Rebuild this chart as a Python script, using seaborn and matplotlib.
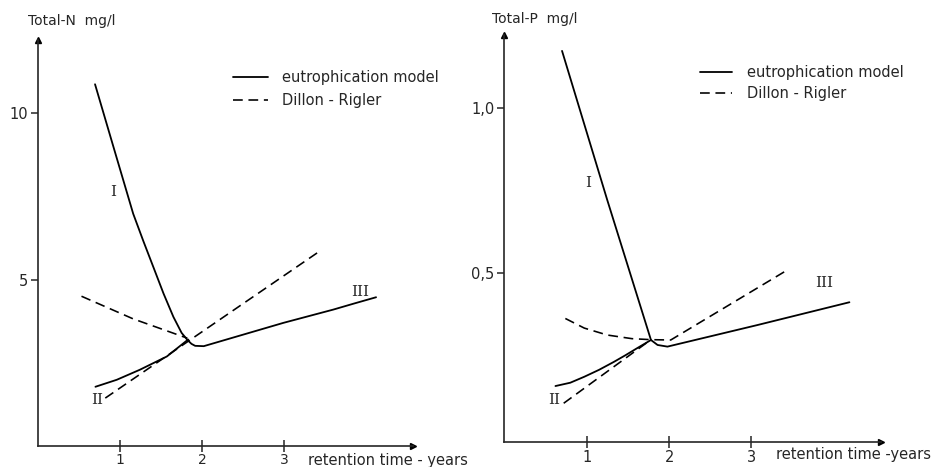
#load python modules
import numpy as np
import pandas as pd
import matplotlib
matplotlib.use("Agg")
import matplotlib.pyplot as plt
import seaborn as sns

#values (x = retention time in years)
n_main_x = [0.695, 0.93, 1.16, 1.285, 1.41, 1.53, 1.65, 1.75, 1.82, 1.87, 1.915, 2.02, 2.99, 3.60, 3.85, 4.12]
n_main_y = [10.87, 8.90, 6.98, 6.15, 5.35, 4.58, 3.88, 3.40, 3.19, 3.07, 3.01, 3.00, 3.70, 4.10, 4.28, 4.47]
n_low_x = [0.70, 0.96, 1.24, 1.57, 1.83]
n_low_y = [1.78, 1.99, 2.29, 2.69, 3.20]
n_dr_low_x = [0.82, 3.43]
n_dr_low_y = [1.44, 5.85]
n_dr_up_x = [0.53, 1.16, 1.82]
n_dr_up_y = [4.50, 3.82, 3.24]

p_main_x = [0.70, 1.25, 1.78, 1.86, 1.98, 3.07, 4.19]
p_main_y = [1.172, 0.721, 0.299, 0.284, 0.279, 0.344, 0.413]
p_low_x = [0.62, 0.80, 0.97, 1.15, 1.33, 1.47, 1.61, 1.78]
p_low_y = [0.160, 0.170, 0.188, 0.209, 0.233, 0.253, 0.274, 0.299]
p_dr_low_x = [0.72, 1.78]
p_dr_low_y = [0.108, 0.300]
p_dr_up_x = [0.74, 0.97, 1.25, 1.55, 1.78, 2.02, 3.40]
p_dr_up_y = [0.364, 0.335, 0.314, 0.303, 0.300, 0.299, 0.505]

n_ticks = [5, 10]
n_ticklabels = ["5", "10"]
p_ticks = [0.5, 1.0]
p_ticklabels = ["0,5", "1,0"]
x_ticks = [1, 2, 3]

sns.set_style("ticks")
plt.rcParams["font.family"] = ["DejaVu Sans"]

fig = plt.figure(figsize=(9.48, 4.67), dpi=100)
W, H = 948.0, 467.0

def frac(x0, y0, x1, y1):
    #pixel box -> figure fraction rect
    return [x0 / W, (H - y1) / H, (x1 - x0) / W, (y1 - y0) / H]

ax1 = fig.add_axes(frac(38, 40, 413, 446))
ax2 = fig.add_axes(frac(504.4, 35, 880.7, 442))

dash = (6, 3.5)
lw = 1.3

def draw(ax, main_x, main_y, low_x, low_y, drl_x, drl_y, dru_x, dru_y):
    sns.lineplot(x=main_x, y=main_y, ax=ax, color="black", lw=lw, sort=False,
                 estimator=None, label="eutrophication model")
    sns.lineplot(x=low_x, y=low_y, ax=ax, color="black", lw=lw, sort=False, estimator=None)
    sns.lineplot(x=drl_x, y=drl_y, ax=ax, color="black", lw=lw * 0.9, sort=False,
                 estimator=None, label="Dillon - Rigler")
    sns.lineplot(x=dru_x, y=dru_y, ax=ax, color="black", lw=lw * 0.9, sort=False, estimator=None)
    ax.lines[2].set_dashes(dash)
    ax.lines[3].set_dashes(dash)

draw(ax1, n_main_x, n_main_y, n_low_x, n_low_y, n_dr_low_x, n_dr_low_y, n_dr_up_x, n_dr_up_y)
draw(ax2, p_main_x, p_main_y, p_low_x, p_low_y, p_dr_low_x, p_dr_low_y, p_dr_up_x, p_dr_up_y)

#axis limits
ax1.set_xlim(0, 4.57)
ax1.set_ylim(0, 12.2)
ax2.set_xlim(0, 4.57)
ax2.set_ylim(-0.009, 1.22)

#format axes
for ax in (ax1, ax2):
    ax.patch.set_alpha(0)
    sns.despine(ax=ax)
    ax.spines["left"].set_linewidth(1.2)
    ax.spines["bottom"].set_linewidth(1.2)
    ax.set_xticks(x_ticks)
    ax.set_xticklabels([str(t) for t in x_ticks])
    ax.tick_params(axis="y", direction="out", length=5, width=1.1, labelsize=10.5, pad=2)
    ax.set_xlabel("")
    ax.set_ylabel("")
    #arrow heads on the axes
    ax.plot(1, 0, ">", color="black", ms=5, transform=ax.transAxes, clip_on=False)
    ax.plot(0, 1, "^", color="black", ms=5, transform=ax.transAxes, clip_on=False)

ax1.tick_params(axis="x", direction="inout", length=8, width=1.1, labelsize=10, pad=1)
ax2.tick_params(axis="x", direction="inout", length=8, width=1.1, labelsize=10.5, pad=2)

ax1.set_yticks(n_ticks)
ax1.set_yticklabels(n_ticklabels)
ax2.set_yticks(p_ticks)
ax2.set_yticklabels(p_ticklabels)

#legends
ax1.legend(loc="upper left", bbox_to_anchor=(0.52, 0.925), frameon=False, fontsize=10.5,
           handlelength=2.4, handletextpad=0.95, labelspacing=0.55, borderpad=0, borderaxespad=0)
ax2.legend(loc="upper left", bbox_to_anchor=(0.52, 0.927), frameon=False, fontsize=10.5,
           handlelength=2.2, handletextpad=1.05, labelspacing=0.45, borderpad=0, borderaxespad=0)

#curve labels
serif = dict(family="DejaVu Serif", fontsize=11, ha="center", va="center")
ax1.text(0.915, 7.62, "I", **serif)
ax1.text(0.72, 1.39, "II", **serif)
ax1.text(3.93, 4.64, "III", **serif)
ax2.text(1.016, 0.773, "I", **serif)
ax2.text(0.60, 0.118, "II", **serif)
ax2.text(3.88, 0.471, "III", **serif)

#axis titles
fig.text(28 / W, 1 - 21 / H, "Total-N  mg/l", fontsize=10, va="center", ha="left")
fig.text(308 / W, 1 - 460 / H, "retention time - years", fontsize=10.5, va="center", ha="left")
fig.text(492 / W, 1 - 19 / H, "Total-P  mg/l", fontsize=10, va="center", ha="left")
fig.text(776 / W, 1 - 455 / H, "retention time -years", fontsize=10.5, va="center", ha="left")

fig.savefig("out.png", dpi=100, facecolor="white")
